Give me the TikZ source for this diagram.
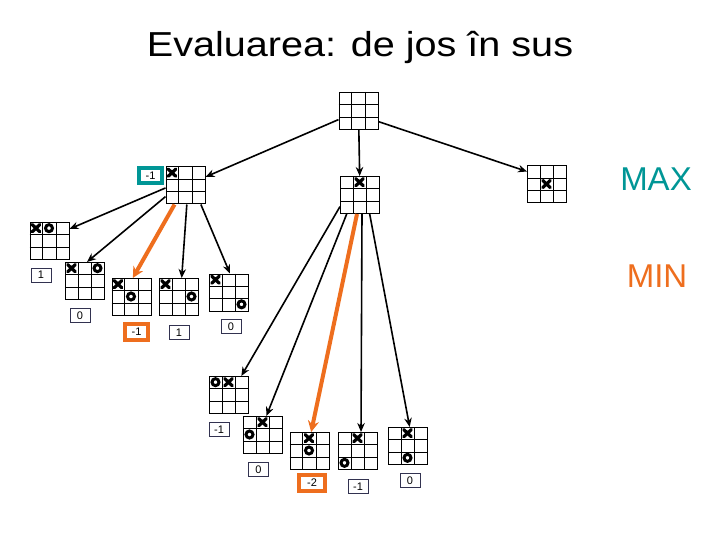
\documentclass[tikz,border=0pt]{standalone}
\usepackage{fontspec}
\setmainfont{Liberation Sans}
\usetikzlibrary{calc,arrows.meta}
\definecolor{tealc}{RGB}{0,150,150}
\definecolor{orangec}{RGB}{238,110,30}
\definecolor{lblc}{RGB}{50,50,80}
\tikzset{
  board/.style={draw,line width=1pt,minimum width=39pt,minimum height=37pt,inner sep=0pt},
  gridl/.style={line width=1pt},
  xm/.style={line width=3.2pt,line cap=round},
  om/.style={line width=3pt},
  lbl/.style={draw=lblc,line width=0.8pt,minimum width=20pt,minimum height=14pt,inner sep=0pt,font=\fontsize{11}{11}\selectfont},
  tealbox/.style={draw=tealc,line width=4pt,minimum width=23pt,minimum height=15pt,inner sep=0pt,font=\fontsize{11}{11}\selectfont},
  orbox/.style={draw=orangec,line width=4pt,minimum height=16pt,inner sep=0pt,font=\fontsize{11}{11}\selectfont},
  arr/.style={line width=1.6pt,-{Stealth[length=9pt,width=7.5pt]}},
  oarr/.style={draw=orangec,line width=4pt,-{Stealth[length=11pt,width=11pt]}},
}
\newcommand\brd[3]{%
  \node[board] (#1) at (#2,#3) {};
  \draw[gridl] ($(#1.north west)!1/3!(#1.north east)$) -- ($(#1.south west)!1/3!(#1.south east)$);
  \draw[gridl] ($(#1.north west)!2/3!(#1.north east)$) -- ($(#1.south west)!2/3!(#1.south east)$);
  \draw[gridl] ($(#1.north west)!1/3!(#1.south west)$) -- ($(#1.north east)!1/3!(#1.south east)$);
  \draw[gridl] ($(#1.north west)!2/3!(#1.south west)$) -- ($(#1.north east)!2/3!(#1.south east)$);
}
\newcommand\mkX[3]{%
  \draw[xm] ($(#1.north west)+({6.5+13*#3},{(#2+0.5)*37/3})$) +(-3.8,-3.6) -- +(3.8,3.6) +(-3.8,3.6) -- +(3.8,-3.6);
}
\newcommand\mkO[3]{%
  \draw[om] ($(#1.north west)+({6.5+13*#3},{(#2+0.5)*37/3})$) circle[radius=3.5pt];
}
\begin{document}
\begin{tikzpicture}[x=1pt,y=-1pt]
\useasboundingbox (0,0) rectangle (720,540);
\node (title) at (360,47) {\scalebox{1.2}[1.05]{\fontsize{33}{33}\selectfont Evaluarea: de jos în sus}};
\node[text=tealc] (max) at (656,179) {\fontsize{33}{33}\selectfont MAX};
\node[text=orangec] (min) at (657,276) {\fontsize{33}{33}\selectfont MIN};

% boards
\brd{root}{358.5}{111}
\brd{La}{185.5}{185.5}\mkX{La}{0}{0}
\brd{Lb}{360}{195}\mkX{Lb}{0}{1}
\brd{Lc}{547}{184.5}\mkX{Lc}{1}{1}

\brd{A}{49.5}{241}\mkX{A}{0}{0}\mkO{A}{0}{1}
\brd{B}{85}{281}\mkX{B}{0}{0}\mkO{B}{0}{2}
\brd{C}{131.5}{297}\mkX{C}{0}{0}\mkO{C}{1}{1}
\brd{D}{179}{297}\mkX{D}{0}{0}\mkO{D}{1}{2}
\brd{E}{229}{292.5}\mkX{E}{0}{0}\mkO{E}{2}{2}

\brd{F}{229}{395}\mkO{F}{0}{0}\mkX{F}{0}{1}
\brd{G}{263}{435}\mkX{G}{0}{1}\mkO{G}{1}{0}
\brd{H}{309.5}{451}\mkX{H}{0}{1}\mkO{H}{1}{1}
\brd{I}{358}{451}\mkX{I}{0}{1}\mkO{I}{2}{0}
\brd{J}{408}{446}\mkX{J}{0}{1}\mkO{J}{2}{1}

% labels
\node[tealbox] (vLa) at (150.5,175.5) {-1};
\node[lbl] (vA) at (41,275) {1};
\node[lbl] (vB) at (80,315.5) {0};
\node[orbox,minimum width=23pt] (vC) at (136.5,332) {-1};
\node[lbl] (vD) at (179,332.5) {1};
\node[lbl] (vE) at (231,326.5) {0};
\node[lbl] (vF) at (219,429.5) {-1};
\node[lbl] (vG) at (258.5,469.5) {0};
\node[orbox,minimum width=26pt] (vH) at (312,483) {-2};
\node[lbl] (vI) at (358,486.5) {-1};
\node[lbl] (vJ) at (410,480.5) {0};

% connectors
\draw[arr] (root) -- (La);
\draw[arr] (root) -- (Lb);
\draw[arr] (root.-28) -- (Lc.147);

\draw[arr] (La.187) -- (A.31);
\draw[arr] (La.209) -- (B.84);
\draw[oarr] (La.-120) -- (C.86);
\draw[arr] (La.-86) -- (D.82);
\draw[arr] (La.-51) -- (E.87);

\draw[arr] (Lb.210) -- (F.57);
\draw[arr] (Lb.235) -- (G.80);
\draw[oarr] (Lb.261) -- (H.85);
\draw[arr] (Lb.-84) -- (I.81);
\draw[arr] (Lb.-63) -- (J.85);
\end{tikzpicture}
\end{document}
